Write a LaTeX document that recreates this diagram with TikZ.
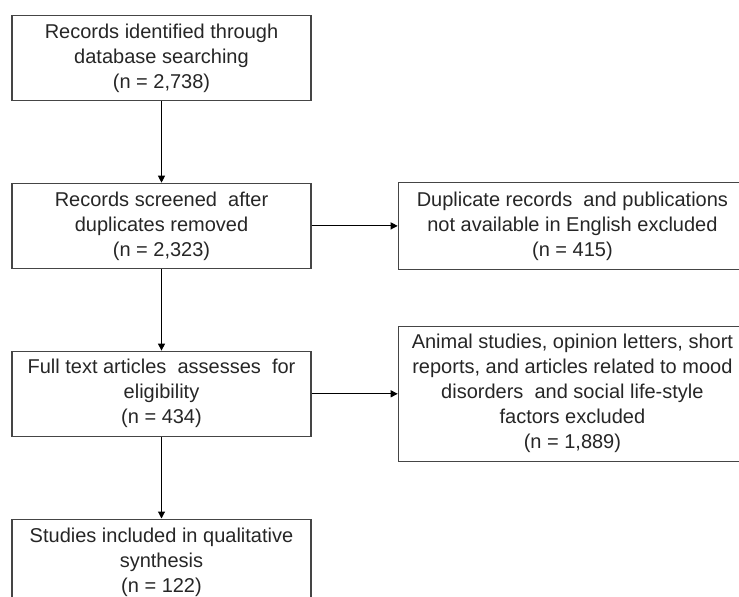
\documentclass[tikz,border=0pt]{standalone}
\usepackage{fontspec}
\setmainfont{Liberation Sans}
\usetikzlibrary{
  arrows.meta,
  positioning,  % Function "of" (e.g. [below=of x])
}
\definecolor{boxgray}{HTML}{454545}
\definecolor{txtgray}{HTML}{262626}
\def\myvdist{81.5pt}
\def\myhdist{86pt}
\tikzset{
  semithick,
  >={Triangle[length=7pt,width=7pt]},
  my box/.style={
    draw=boxgray,
    line width=1.4pt,
    text=txtgray,
    minimum width=299pt,
    minimum height=85pt,
    inner sep=0pt,
    align=center,
    font=\fontsize{20}{25}\selectfont
  },
  my wide box/.style={
    my box,
    minimum width=348pt
  },
  flow/.style={
    ->,
    line width=1.1pt,
    draw=black
  }
}
\begin{document}
\begin{tikzpicture}[x=1pt,y=1pt,node distance=\myvdist]
\clip (0,0) rectangle (739,-597);
\node[my box]                          (ident)  at (161.5,-58) {Records identified through\\database searching\\(n = 2,738)};
\node[my box]                          (screen) [below=of ident]  {Records screened\ \ after\\duplicates removed\\(n = 2,323)};
\node[my wide box,minimum height=87pt] (dupl)   [right=\myhdist of screen] {Duplicate records\ \ and publications\\not available in English excluded\\(n = 415)};
\node[my box]                          (full)   [below=of screen] {Full text articles\ \ assesses\ \ for\\eligibility\\(n = 434)};
\node[my wide box,minimum height=135pt](excl)   [right=\myhdist of full] {Animal studies, opinion letters, short\\reports, and articles related to mood\\disorders\ \ and social life-style\\factors excluded\\(n = 1,889)};
\node[my box,minimum height=86pt]      (incl)   [below=of full]   {Studies included in qualitative\\synthesis\\(n = 122)};
\path[flow] (ident)  edge (screen)
            (screen) edge (dupl)
            (screen) edge (full)
            (full)   edge (excl)
            (full)   edge (incl);
\end{tikzpicture}
\end{document}
